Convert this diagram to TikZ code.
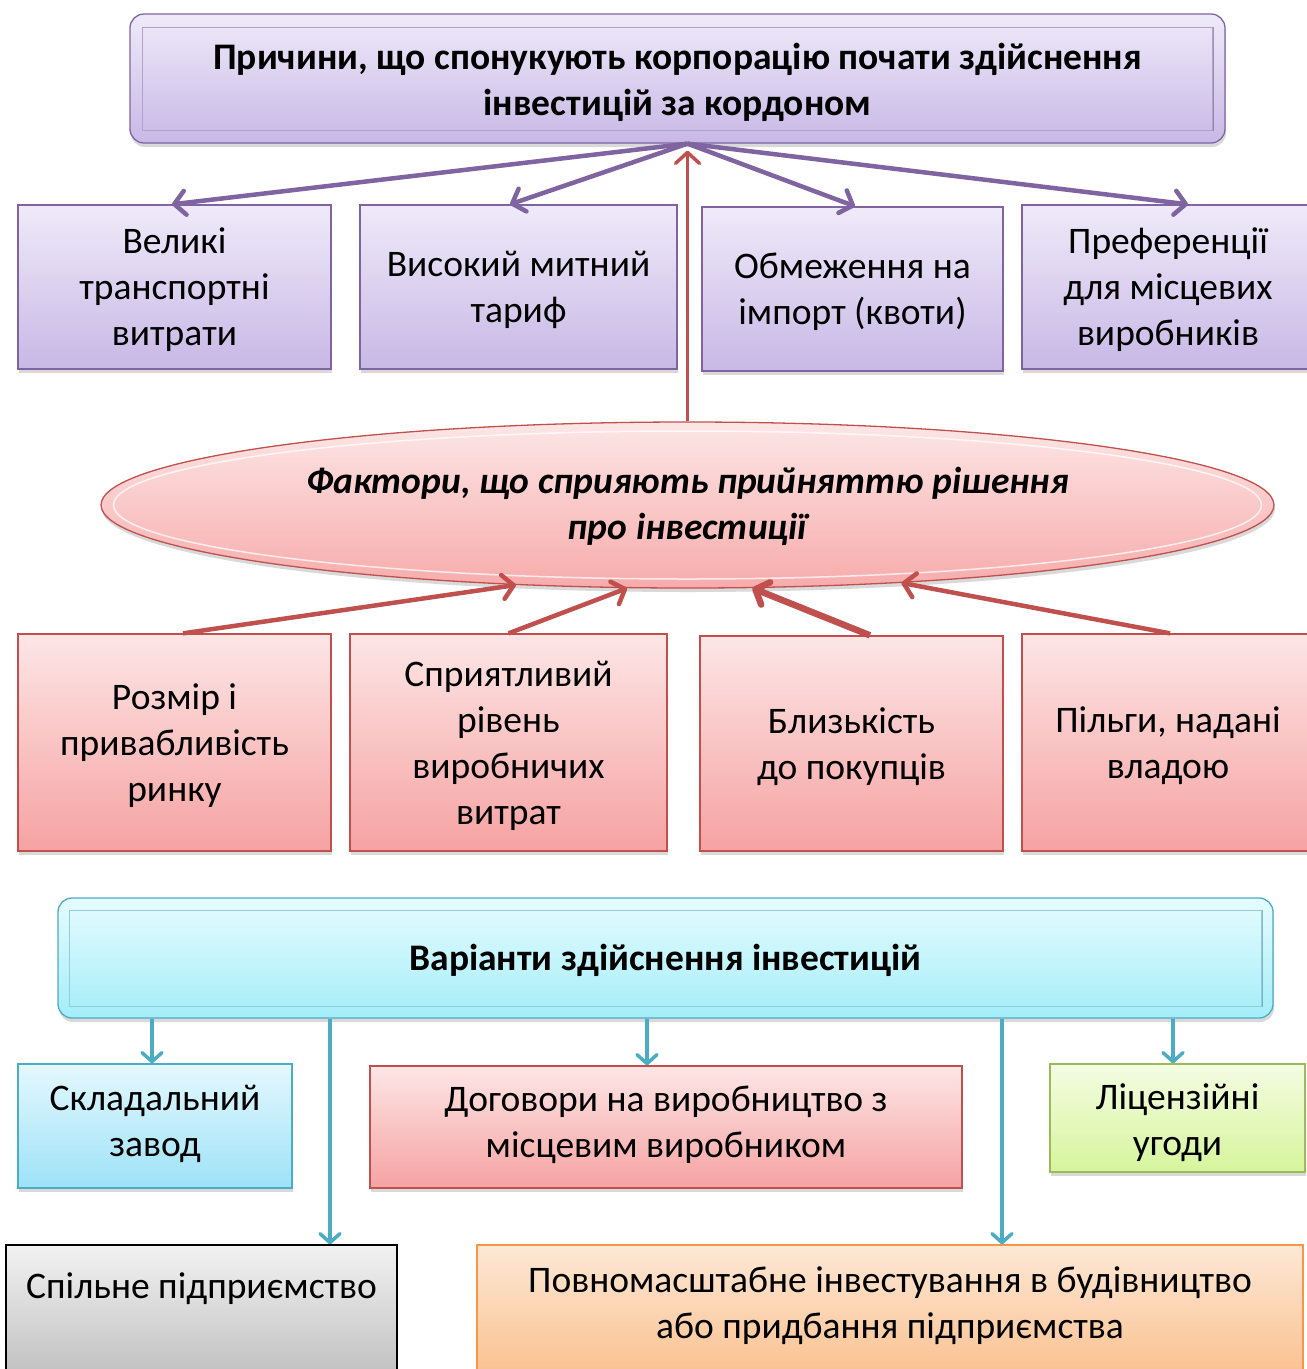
\documentclass[tikz,border=0pt]{standalone}
\usepackage{fontspec}
\setmainfont{Carlito}
\usetikzlibrary{shapes.geometric,arrows.meta,shadows,calc}
\definecolor{purp}{HTML}{8064A2}
\definecolor{purpT}{HTML}{EFEAF9}
\definecolor{purpB}{HTML}{C8B8E6}
\definecolor{redc}{HTML}{C0504D}
\definecolor{redT}{HTML}{FDE6E6}
\definecolor{redB}{HTML}{F6A2A2}
\definecolor{cyanc}{HTML}{4BACC6}
\definecolor{cyanT}{HTML}{E6FCFF}
\definecolor{cyanB}{HTML}{A4EDF8}
\definecolor{skyT}{HTML}{E4F8FF}
\definecolor{skyB}{HTML}{9DE2F7}
\definecolor{grnc}{HTML}{9BBB59}
\definecolor{grnT}{HTML}{F4FCE2}
\definecolor{grnB}{HTML}{D6F59C}
\definecolor{oranc}{HTML}{F79646}
\definecolor{oranT}{HTML}{FDE8D6}
\definecolor{oranB}{HTML}{FABE8A}
\definecolor{grayT}{HTML}{F2F2F2}
\definecolor{grayB}{HTML}{BDBDBD}
\begin{document}
\begin{tikzpicture}[x=1pt,y=-1pt,
  base/.style={draw, line width=1.3pt, align=center, inner sep=0pt,
    font=\fontsize{37.5}{46}\selectfont, text=black,
    drop shadow={shadow xshift=1pt, shadow yshift=-4pt, opacity=0.3}},
  pbox/.style={base, draw=purp, top color=purpT, bottom color=purpB},
  rbox/.style={base, draw=redc, top color=redT, bottom color=redB},
  sbox/.style={base, draw=cyanc, top color=skyT, bottom color=skyB},
  gbox/.style={base, draw=grnc, top color=grnT, bottom color=grnB},
  obox/.style={base, draw=oranc, top color=oranT, bottom color=oranB},
  kbox/.style={base, draw=black, top color=grayT, bottom color=grayB},
  tip/.style={-{Straight Barb[round,length=11pt,width=24pt]}},
  parr/.style={tip, draw=purp, line width=4.5pt},
  rarr/.style={tip, draw=redc, line width=4.5pt},
  carr/.style={-{Straight Barb[round,length=9pt,width=20pt]}, draw=cyanc, line width=3.5pt},
  lbl/.style={font=\fontsize{37.5}{46}\selectfont, align=center, inner sep=0pt},
]
\useasboundingbox (0,0) rectangle (1307,1369);

% top box
\node[base, draw=purp, top color=purpT, bottom color=purpB, rounded corners=14pt,
  minimum width=1095pt, minimum height=129pt] (top) at (677.5,78.5) {};
\draw[white, opacity=0.7, line width=1.5pt] ([shift={(13pt,-14pt)}]top.north west) -- ([shift={(-13pt,-14pt)}]top.north east);
\draw[purp!70!black, opacity=0.5, line width=2pt] ([shift={(-13pt,-14pt)}]top.north east) -- ([shift={(-13pt,13pt)}]top.south east);
\draw[purp!60, line width=1pt] ([shift={(13pt,-14pt)}]top.north west) rectangle ([shift={(-13pt,13pt)}]top.south east);
\node[lbl, font=\bfseries\fontsize{37.5}{46}\selectfont] (topt) at (677.5,82) {Причини, що спонукують корпорацію почати здійснення\\інвестицій за кордоном};

% purple boxes
\node[pbox, minimum width=313pt, minimum height=164pt] (p1) at (174.5,287) {};
\node[lbl] (p1t) at (174.5,290) {Великі\\транспортні\\витрати};
\node[pbox, minimum width=317pt, minimum height=164pt] (p2) at (518.5,287) {};
\node[lbl] (p2t) at (518.5,290) {Високий митний\\тариф};
\node[pbox, minimum width=301pt, minimum height=164pt] (p3) at (852.5,289) {};
\node[lbl] (p3t) at (852.5,292) {Обмеження на\\імпорт (квоти)};
\node[pbox, minimum width=292pt, minimum height=164pt] (p4) at (1168,287) {};
\node[lbl] (p4t) at (1168,290) {Преференції\\для місцевих\\виробників};

% ellipse
\node[ellipse, base, draw=redc, top color=redT, bottom color=redB!90,
  minimum width=1173pt, minimum height=166pt] (el) at (687.5,505) {};
\draw[white, opacity=0.75, line width=1.5pt] (el.center) ellipse [x radius=574, y radius=74];
\node[lbl, font=\bfseries\itshape\fontsize{37.5}{46}\selectfont] (elt) at (687.5,506) {Фактори, що сприяють прийняттю рішення\\про інвестиції};

% red boxes
\node[rbox, minimum width=313pt, minimum height=217pt] (r1) at (174.5,742.5) {};
\node[lbl] (r1t) at (174.5,745.5) {Розмір і\\привабливість\\ринку};
\node[rbox, minimum width=317pt, minimum height=217pt] (r2) at (508.5,742.5) {};
\node[lbl] (r2t) at (508.5,745.5) {Сприятливий\\рівень\\виробничих\\витрат};
\node[rbox, minimum width=303pt, minimum height=215pt] (r3) at (851.5,743.5) {};
\node[lbl] (r3t) at (851.5,747) {Близькість\\до покупців};
\node[rbox, minimum width=292pt, minimum height=217pt] (r4) at (1168,742.5) {};
\node[lbl] (r4t) at (1168,745.5) {Пільги, надані\\владою};

% cyan box
\node[base, draw=cyanc, top color=cyanT, bottom color=cyanB, rounded corners=14pt,
  minimum width=1215pt, minimum height=120pt] (cb) at (665.5,958) {};
\draw[white, opacity=0.7, line width=1.5pt] ([shift={(12pt,-13pt)}]cb.north west) -- ([shift={(-12pt,-13pt)}]cb.north east);
\draw[cyanc!70!black, opacity=0.5, line width=2pt] ([shift={(-12pt,-13pt)}]cb.north east) -- ([shift={(-12pt,12pt)}]cb.south east);
\draw[cyanc!60, line width=1pt] ([shift={(12pt,-13pt)}]cb.north west) rectangle ([shift={(-12pt,12pt)}]cb.south east);
\node[lbl, font=\bfseries\fontsize{37.5}{46}\selectfont] (cbt) at (665.5,960) {Варіанти здійснення інвестицій};

% bottom boxes
\node[sbox, minimum width=274pt, minimum height=124pt] (sk) at (155,1126) {};
\node[lbl] (skt) at (155,1124) {Складальний\\завод};
\node[rbox, minimum width=592pt, minimum height=122pt] (dg) at (666,1127) {};
\node[lbl] (dgt) at (666,1125) {Договори на виробництво з\\місцевим виробником};
\node[gbox, minimum width=255pt, minimum height=108pt] (lc) at (1177.5,1118) {};
\node[lbl] (lct) at (1177.5,1123) {Ліцензійні\\угоди};
\node[kbox, minimum width=391pt, minimum height=140pt] (sp) at (201.5,1315) {};
\node[lbl] (spt) at (201.5,1289) {Спільне підприємство};
\node[obox, minimum width=826pt, minimum height=140pt] (pv) at (890,1315) {};
\node[lbl] (pvt) at (890,1306) {Повномасштабне інвестування в будівництво\\або придбання підприємства};

% purple arrows
\coordinate (src) at (el.north |- top.south);
\draw[parr] (src) -- ([xshift=-2.5pt]p1.north);
\draw[parr] (src) -- ([xshift=-8.5pt]p2.north);
\draw[parr] (src) -- ([xshift=2.5pt]p3.north);
\draw[parr] (src) -- ([xshift=20pt]p4.north);

% red arrows
\draw[rarr, line width=3.5pt] (el.north) -- ([yshift=-7pt]src);
\draw[rarr] ([xshift=8.5pt]r1.north) -- (el.205);
\draw[rarr] ([xshift=0pt]r2.north) -- (el.234);
\draw[rarr, line width=6.5pt] ([xshift=18.5pt]r3.north) -- (el.308);
\draw[rarr] ([xshift=2pt]r4.north) -- (el.340);

% cyan arrows
\coordinate (a1) at ([xshift=-3pt]sk.north);
\coordinate (a2) at ([xshift=128.5pt]sp.north);
\coordinate (a3) at ([xshift=-19pt]dg.north);
\coordinate (a4) at ([xshift=112pt]pv.north);
\coordinate (a5) at ([xshift=-4.5pt]lc.north);
\draw[carr] (a1 |- cb.south) -- (a1);
\draw[carr] (a2 |- cb.south) -- (a2);
\draw[carr] (a3 |- cb.south) -- (a3);
\draw[carr] (a4 |- cb.south) -- (a4);
\draw[carr] (a5 |- cb.south) -- (a5);
\end{tikzpicture}
\end{document}
